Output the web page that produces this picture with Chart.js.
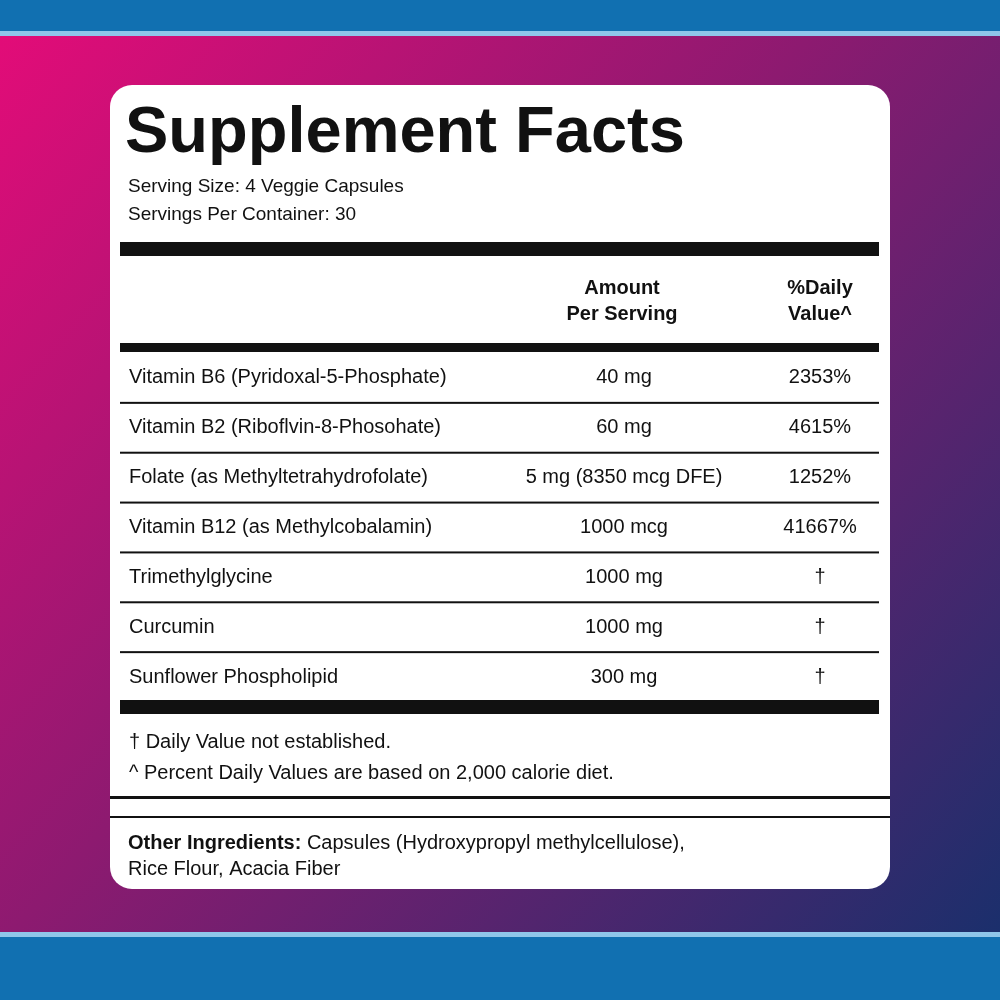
<!DOCTYPE html>
<html>
<head>
<meta charset="utf-8">
<style>
  html, body { margin: 0; padding: 0; background: #fff; }
  #wrap { width: 1000px; height: 1000px; }
</style>
<script src="https://cdn.jsdelivr.net/npm/chart.js@4/dist/chart.umd.min.js"></script>
</head>
<body>
<div id="wrap"><canvas id="chart" width="1000" height="1000"></canvas></div>
<script>
const title = 'Supplement Facts';
const servingLines = ['Serving Size: 4 Veggie Capsules', 'Servings Per Container: 30'];
const headerAmount = ['Amount', 'Per Serving'];
const headerDaily = ['%Daily', 'Value^'];
const nutrients = [
  'Vitamin B6 (Pyridoxal-5-Phosphate)',
  'Vitamin B2 (Riboflvin-8-Phosohate)',
  'Folate (as Methyltetrahydrofolate)',
  'Vitamin B12 (as Methylcobalamin)',
  'Trimethylglycine',
  'Curcumin',
  'Sunflower Phospholipid'
];
const amounts = ['40 mg', '60 mg', '5 mg (8350 mcg DFE)', '1000 mcg', '1000 mg', '1000 mg', '300 mg'];
const dailyValues = ['2353%', '4615%', '1252%', '41667%', '†', '†', '†'];
const footnotes = ['† Daily Value not established.', '^ Percent Daily Values are based on 2,000 calorie diet.'];
const otherBold = 'Other Ingredients:';
const otherLines = [' Capsules (Hydroxypropyl methylcellulose),', 'Rice Flour, Acacia Fiber'];

const FONT = '"Liberation Sans", Arial, sans-serif';

function roundRect(ctx, x, y, w, h, r) {
  ctx.beginPath();
  ctx.moveTo(x + r, y);
  ctx.arcTo(x + w, y, x + w, y + h, r);
  ctx.arcTo(x + w, y + h, x, y + h, r);
  ctx.arcTo(x, y + h, x, y, r);
  ctx.arcTo(x, y, x + w, y, r);
  ctx.closePath();
}

const labelPlugin = {
  id: 'labelPanel',
  beforeDraw(chart) {
    const ctx = chart.ctx;
    ctx.save();
    const g = ctx.createLinearGradient(0, 40, 1000, 930);
    g.addColorStop(0, '#e20c78');
    g.addColorStop(0.45, '#8d1a70');
    g.addColorStop(1, '#1b2f6c');
    ctx.fillStyle = g;
    ctx.fillRect(0, 0, 1000, 1000);
    ctx.fillStyle = '#1170b1';
    ctx.fillRect(0, 0, 1000, 31);
    ctx.fillRect(0, 937, 1000, 63);
    ctx.fillStyle = '#8fc6ea';
    ctx.fillRect(0, 31, 1000, 5);
    ctx.fillRect(0, 932, 1000, 5);
    ctx.fillStyle = '#fff';
    roundRect(ctx, 110, 85, 780, 804, 22);
    ctx.fill();
    ctx.restore();
  },
  afterDraw(chart) {
    const ctx = chart.ctx;
    const y = chart.scales.y;
    ctx.save();
    ctx.fillStyle = '#111';
    ctx.textBaseline = 'middle';
    ctx.textAlign = 'left';
    ctx.font = 'bold 65px ' + FONT;
    ctx.fillText(title, 125, 134);
    ctx.font = '19px ' + FONT;
    servingLines.forEach((t, i) => ctx.fillText(t, 128, 187 + i * 28));

    ctx.fillRect(120, 242, 759, 14);
    ctx.font = 'bold 20px ' + FONT;
    ctx.textAlign = 'center';
    headerAmount.forEach((t, i) => ctx.fillText(t, 622, 288 + i * 26));
    headerDaily.forEach((t, i) => ctx.fillText(t, 820, 288 + i * 26));
    ctx.fillRect(120, 343, 759, 9);

    // rows placed by the category y scale
    ctx.font = '20px ' + FONT;
    nutrients.forEach((name, i) => {
      const py = y.getPixelForValue(i);
      ctx.textAlign = 'left';
      ctx.fillText(name, 129, py);
      ctx.textAlign = 'center';
      ctx.fillText(amounts[i], 624, py);
      ctx.fillText(dailyValues[i], 820, py);
      if (i < nutrients.length - 1) {
        const sy = (py + y.getPixelForValue(i + 1)) / 2;
        ctx.fillRect(120, sy - 1, 759, 2);
      }
    });
    ctx.fillRect(120, 700, 759, 14);

    ctx.textAlign = 'left';
    footnotes.forEach((t, i) => ctx.fillText(t, 129, 742 + i * 31));
    ctx.fillRect(110, 796, 780, 3);
    ctx.fillRect(110, 816, 780, 2);

    ctx.font = 'bold 20px ' + FONT;
    ctx.fillText(otherBold, 128, 843);
    const w = ctx.measureText(otherBold).width;
    ctx.font = '20px ' + FONT;
    ctx.fillText(otherLines[0], 128 + w, 843);
    ctx.fillText(otherLines[1], 128, 869);
    ctx.restore();
  }
};

const ctx = document.getElementById('chart').getContext('2d');
// invisible bar chart whose category axis positions the table rows
const chart = new Chart(ctx, {
  type: 'bar',
  data: {
    labels: nutrients,
    datasets: [{ data: nutrients.map(() => 0), backgroundColor: 'rgba(0,0,0,0)' }]
  },
  options: {
    indexAxis: 'y',
    responsive: false,
    animation: false,
    devicePixelRatio: 1,
    layout: { padding: { top: 353, bottom: 298, left: 0, right: 0 } },
    plugins: { legend: { display: false }, tooltip: { enabled: false } },
    scales: {
      x: { display: false, min: 0, max: 1 },
      y: { display: false }
    }
  },
  plugins: [labelPlugin]
});
</script>
</body>
</html>
